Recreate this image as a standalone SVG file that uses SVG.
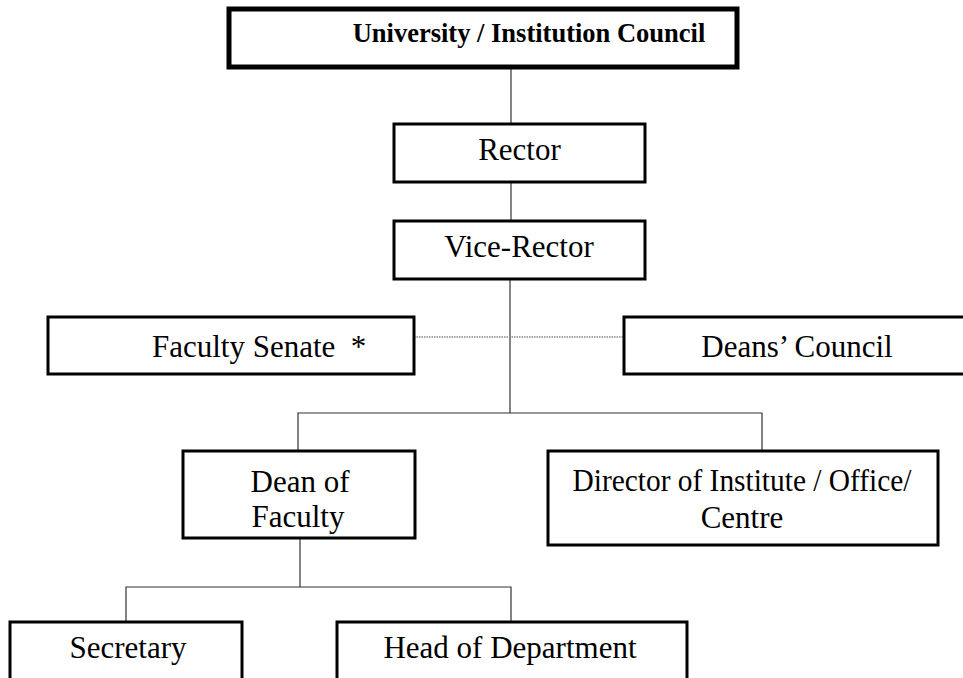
<svg xmlns="http://www.w3.org/2000/svg" width="963" height="678" viewBox="0 0 963 678">
<style>
.box{fill:#fff;stroke:#000;stroke-width:3}
.top{fill:#fff;stroke:#000;stroke-width:5}
.lbl{font-family:"Liberation Serif","Times New Roman",serif;font-size:31px;fill:#000;text-anchor:middle}
.ttl{font-family:"Liberation Serif","Times New Roman",serif;font-size:26.5px;font-weight:bold;fill:#000;text-anchor:middle}
.ln{stroke:#333;stroke-width:1.2;fill:none}
.dot{stroke:#888;stroke-width:1.5;stroke-dasharray:1.5 1;fill:none}
</style>
<rect width="963" height="678" fill="#fff"/>
<g id="connectors">
<line class="ln" x1="511" y1="67" x2="511" y2="124"/>
<line class="ln" x1="511" y1="182" x2="511" y2="221"/>
<line class="ln" x1="510" y1="279" x2="510" y2="413"/>
<polyline class="ln" points="298,451 298,413 762,413 762,451"/>
<line class="ln" x1="300" y1="538" x2="300" y2="587"/>
<polyline class="ln" points="126,622 126,587 511,587 511,622"/>
<line class="dot" x1="414" y1="337" x2="624" y2="337"/>
</g>
<g id="council"><rect class="top" x="229" y="9" width="508" height="58"/><text class="ttl" x="529" y="42">University / Institution Council</text></g>
<g id="rector"><rect class="box" x="394" y="124" width="251" height="58"/><text class="lbl" x="519.5" y="160">Rector</text></g>
<g id="vice-rector"><rect class="box" x="394" y="221" width="251" height="58"/><text class="lbl" x="519" y="257">Vice-Rector</text></g>
<g id="faculty-senate"><rect class="box" x="48" y="317" width="366" height="57"/><text class="lbl" x="152" y="357" style="text-anchor:start" xml:space="preserve">Faculty Senate  *</text></g>
<g id="deans-council"><rect class="box" x="624" y="317" width="346" height="57"/><text class="lbl" x="797" y="357">Deans’ Council</text></g>
<g id="dean"><rect class="box" x="183" y="451" width="232" height="87"/><text class="lbl" x="300" y="492">Dean of</text><text class="lbl" x="298" y="527">Faculty</text></g>
<g id="director"><rect class="box" x="548" y="451" width="390" height="94"/><text class="lbl" x="742" y="491" textLength="339" lengthAdjust="spacingAndGlyphs">Director of Institute / Office/</text><text class="lbl" x="742" y="528">Centre</text></g>
<g id="secretary"><rect class="box" x="10" y="622" width="232" height="70"/><text class="lbl" x="128" y="658">Secretary</text></g>
<g id="head"><rect class="box" x="337" y="622" width="350" height="70"/><text class="lbl" x="510" y="658">Head of Department</text></g>
</svg>
